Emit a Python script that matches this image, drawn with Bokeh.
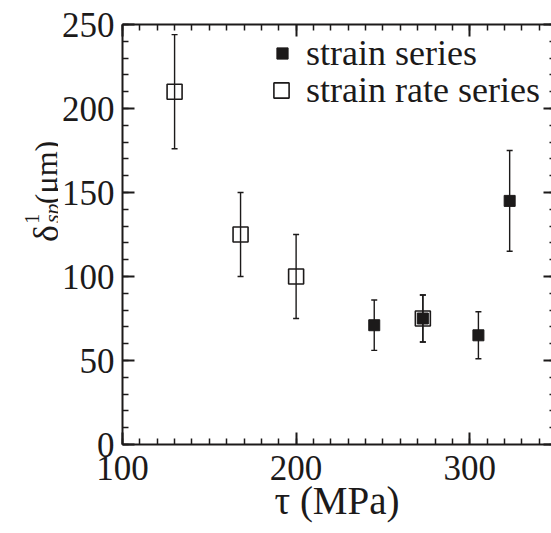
import math
from bokeh.plotting import figure
from bokeh.layouts import row
from bokeh.models import (Range1d, LinearAxis, SingleIntervalTicker, ColumnDataSource,
                          Whisker, TeeHead, Legend, LegendItem)
from bokeh.core.properties import value
from bokeh.embed import file_html
from bokeh.resources import INLINE

# ---- data ----
strain_tau = [245, 273, 305, 323]
strain_delta = [71, 75, 65, 145]
strain_err = [15, 14, 14, 30]

rate_tau = [130, 168, 200, 273]
rate_delta = [210, 125, 100, 75]
rate_err = [34, 25, 25, 14]

x_ticks_major = 100
y_ticks_major = 50

FONT = "Liberation Serif"
INK = "#1c1a1a"
TOTAL_W, TOTAL_H = 551, 533
LAB_W = 58

p = figure(width=TOTAL_W - LAB_W, height=TOTAL_H, output_backend="svg", toolbar_location=None,
           x_range=Range1d(100, 347.1), y_range=Range1d(0, 250),
           x_axis_location=None, y_axis_location=None)
p.min_border_left = 121 - LAB_W
p.min_border_right = 0
p.min_border_top = 24
p.min_border_bottom = 89
p.outline_line_color = None
p.xgrid.visible = False
p.ygrid.visible = False
p.background_fill_color = "white"
p.border_fill_color = "white"


def style_axis(ax, labels=True):
    ax.axis_line_width = 2
    ax.axis_line_color = INK
    ax.major_tick_in = 12
    ax.major_tick_out = 0
    ax.minor_tick_in = 6
    ax.minor_tick_out = 0
    ax.major_tick_line_width = 2
    ax.minor_tick_line_width = 1.5
    ax.major_tick_line_color = INK
    ax.minor_tick_line_color = INK
    if labels:
        ax.major_label_text_font = FONT
        ax.major_label_text_font_size = "35px"
        ax.major_label_text_color = INK
    else:
        ax.major_label_text_font_size = "0px"
        ax.major_label_standoff = 0
        ax.major_label_text_color = None


xb = LinearAxis(ticker=SingleIntervalTicker(interval=x_ticks_major, num_minor_ticks=10))
style_axis(xb)
xb.major_label_standoff = 11
xb.axis_label = "τ (MPa)"
xb.axis_label_text_font = FONT
xb.axis_label_text_font_size = "39px"
xb.axis_label_text_font_style = "normal"
xb.axis_label_text_color = INK
xb.axis_label_standoff = -4
p.add_layout(xb, "below")

xt = LinearAxis(ticker=SingleIntervalTicker(interval=x_ticks_major, num_minor_ticks=10))
style_axis(xt, labels=False)
p.add_layout(xt, "above")

yl = LinearAxis(ticker=SingleIntervalTicker(interval=y_ticks_major, num_minor_ticks=5))
style_axis(yl)
yl.major_label_standoff = 8
p.add_layout(yl, "left")

yr = LinearAxis(ticker=SingleIntervalTicker(interval=y_ticks_major, num_minor_ticks=5))
style_axis(yr, labels=False)
yr.axis_line_color = None
yr.major_tick_in = 8
yr.minor_tick_in = 2
p.add_layout(yr, "right")

# ---- error bars ----
for xs, ys, es in [(rate_tau, rate_delta, rate_err), (strain_tau, strain_delta, strain_err)]:
    src = ColumnDataSource(dict(x=xs, lo=[y - e for y, e in zip(ys, es)],
                                hi=[y + e for y, e in zip(ys, es)]))
    w = Whisker(base="x", lower="lo", upper="hi", source=src,
                line_color=INK, line_width=1.4,
                upper_head=TeeHead(size=6, line_color=INK, line_width=1.4),
                lower_head=TeeHead(size=6, line_color=INK, line_width=1.4))
    p.add_layout(w)

# ---- markers ----
r_rate = p.scatter(rate_tau, rate_delta, marker="square", size=15, fill_color=None,
                   line_color=INK, line_width=1.6)
r_strain = p.scatter(strain_tau, strain_delta, marker="square", size=11, fill_color=INK,
                     line_color=INK, line_width=1)

# ---- legends ----
leg1 = Legend(items=[LegendItem(label="strain series", renderers=[r_strain])],
              location=(146, 370), glyph_width=28, glyph_height=28, label_height=28,
              label_standoff=10, padding=0, margin=0, spacing=0,
              border_line_color=None, background_fill_alpha=0,
              label_text_font=FONT, label_text_font_size="36px", label_text_color=INK)
leg2 = Legend(items=[LegendItem(label="strain rate series", renderers=[r_rate])],
              location=(140, 333), glyph_width=38, glyph_height=38, label_height=38,
              label_standoff=6, padding=0, margin=0, spacing=0,
              border_line_color=None, background_fill_alpha=0,
              label_text_font=FONT, label_text_font_size="36px", label_text_color=INK)
p.add_layout(leg1, "center")
p.add_layout(leg2, "center")

# ---- y-axis title (separate narrow panel, pixel coordinates) ----
lab = figure(width=LAB_W, height=TOTAL_H, output_backend="svg", toolbar_location=None,
             x_range=Range1d(0, LAB_W), y_range=Range1d(0, TOTAL_H),
             x_axis_location=None, y_axis_location=None, min_border=0)
lab.outline_line_color = None
lab.xgrid.visible = False
lab.ygrid.visible = False
lab.background_fill_color = "white"
lab.border_fill_color = "white"

ang = math.pi / 2
for txt, cx, cy, size, style in [("δ", 45, 276, "36px", "normal"),
                                 ("1", 31, 253, "20px", "normal"),
                                 ("sp", 51, 252, "22px", "italic"),
                                 ("(μm)", 45, 228, "32px", "normal")]:
    lab.text(x=[cx], y=[TOTAL_H - cy], text=[txt], angle=ang,
             text_font=value(FONT), text_font_size=value(size),
             text_font_style=value(style), text_color=INK,
             text_align="left", text_baseline="alphabetic")

layout = row(lab, p, spacing=0)
open("out.html", "w").write(file_html(layout, INLINE))
